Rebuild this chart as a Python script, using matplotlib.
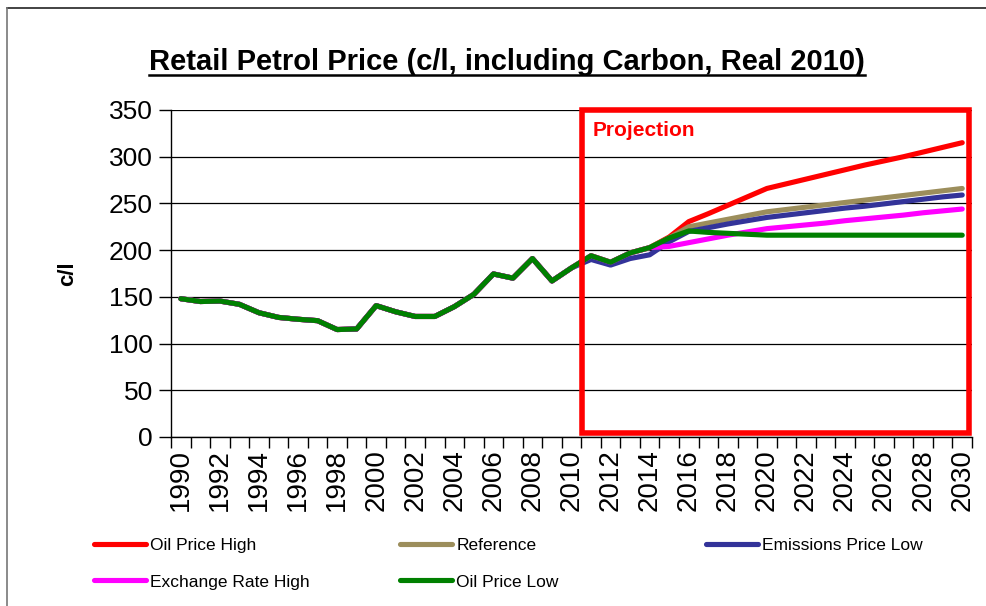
import matplotlib
matplotlib.use("Agg")
import matplotlib.pyplot as plt
from matplotlib.patches import Rectangle
from matplotlib.lines import Line2D
import numpy as np

plt.rcParams['font.family'] = ['Liberation Sans', 'DejaVu Sans']

years = list(range(1990, 2031))

# history 1990-2010, shared by every scenario
history = [148, 145, 145.5, 142, 133, 128, 126, 124.5, 115, 115.6,
           140.6, 134, 129, 129, 139.5, 152.7, 174.5, 170, 191, 167, 181]

oil_high = history + [194, 187, 197, 202.7, 214, 230.5, 239, 248, 257, 266,
                      271, 276, 281, 286, 291, 295.5, 300, 305, 310, 315]
reference = history + [194, 187, 197, 202.7, 213, 225, 229, 233, 237, 241,
                       243.5, 246, 248.5, 251, 253.5, 256, 258.5, 261, 263.5, 266]
emissions_low = history + [190, 184, 191, 195, 209, 220, 224, 228, 231.5, 235,
                           237.5, 240, 242.5, 245, 247, 249.5, 252, 254.5, 257, 259]
exchange_high = history + [194, 187, 197, 202.7, 204, 208, 212, 216, 219.5, 223,
                           225, 227, 229, 231.5, 233.5, 235.5, 237.5, 240, 242, 244]
oil_low = history + [194, 187, 197, 202.7, 213, 220.5, 219, 218, 217, 216,
                     216, 216, 216, 216, 216, 216, 216, 216, 216, 216]

series = [
    ("Oil Price High", oil_high, "#FF0000"),
    ("Reference", reference, "#9C8E5C"),
    ("Emissions Price Low", emissions_low, "#333399"),
    ("Exchange Rate High", exchange_high, "#FF00FF"),
    ("Oil Price Low", oil_low, "#008000"),
]

fig = plt.figure(figsize=(9.87, 6.06), dpi=100)
ax = fig.add_axes([0.1733, 0.2789, 0.8115, 0.5396])

handles = {}
for name, vals, col in series:
    ln, = ax.plot(years, vals, color=col, lw=3.7, solid_capstyle='round',
                  solid_joinstyle='round', label=name, zorder=3)
    handles[name] = ln

ax.set_xlim(1989.5, 2030.5)
ax.set_ylim(0, 350)
ax.set_yticks(np.arange(0, 351, 50))
ax.yaxis.grid(True, color='black', lw=0.9)
ax.set_axisbelow(True)
for s in ['top', 'right']:
    ax.spines[s].set_visible(False)
ax.spines['left'].set_linewidth(1.0)
ax.spines['bottom'].set_linewidth(1.0)

ax.set_xticks(years[::2])
ax.set_xticklabels([str(y) for y in years[::2]], rotation=90)
ax.set_xticks(np.arange(1989.5, 2031, 1), minor=True)
ax.tick_params(axis='x', which='major', length=0, labelsize=20, pad=9)
ax.tick_params(axis='x', which='minor', length=8, width=1.0, direction='out')
ax.tick_params(axis='y', length=9, width=1.0, labelsize=19, pad=4)

ax.set_ylabel("c/l", fontsize=16, fontweight='bold', labelpad=22)

# projection box
ax.add_patch(Rectangle((2010.55, 4.8), 2030.37 - 2010.55, 350 - 4.8, fill=False,
                       edgecolor='#FF0000', lw=4, clip_on=False, zorder=5))
ax.text(2011.1, 328, "Projection", color='#FF0000', fontsize=15,
        fontweight='bold', ha='left', va='center', zorder=6)

# title with underline
title = fig.text(0.514, 0.898, "Retail Petrol Price (c/l, including Carbon, Real 2010)",
                 ha='center', va='center', fontsize=21, fontweight='bold')
fig.canvas.draw()
bb = title.get_window_extent(renderer=fig.canvas.get_renderer())
bb = bb.transformed(fig.transFigure.inverted())
fig.add_artist(Line2D([bb.x0, bb.x1], [bb.y0 + 0.002, bb.y0 + 0.002],
                      color='black', lw=1.8, transform=fig.transFigure))

# legend, three columns laid out row by row
columns = [["Oil Price High", "Exchange Rate High"],
           ["Reference", "Oil Price Low"],
           ["Emissions Price Low"]]
col_x = [0.095, 0.405, 0.715]
for names, x in zip(columns, col_x):
    leg = fig.legend([handles[n] for n in names], names, loc='upper left',
                     bbox_to_anchor=(x, 0.113), frameon=False, fontsize=12.5,
                     handlelength=3.0, handletextpad=0.25, labelspacing=1.25,
                     borderpad=0, borderaxespad=0)
    for lh in leg.get_lines():
        lh.set_linewidth(3.7)

# chart border (cut off on the right and bottom)
fig.add_artist(Line2D([0.007, 1.0], [1 - 8 / 606, 1 - 8 / 606], color='#222222',
                      lw=1.2, transform=fig.transFigure))
fig.add_artist(Line2D([0.007, 0.007], [1 - 8 / 606, 0.0], color='#777777',
                      lw=1.2, transform=fig.transFigure))

fig.savefig("out.png", dpi=100)
